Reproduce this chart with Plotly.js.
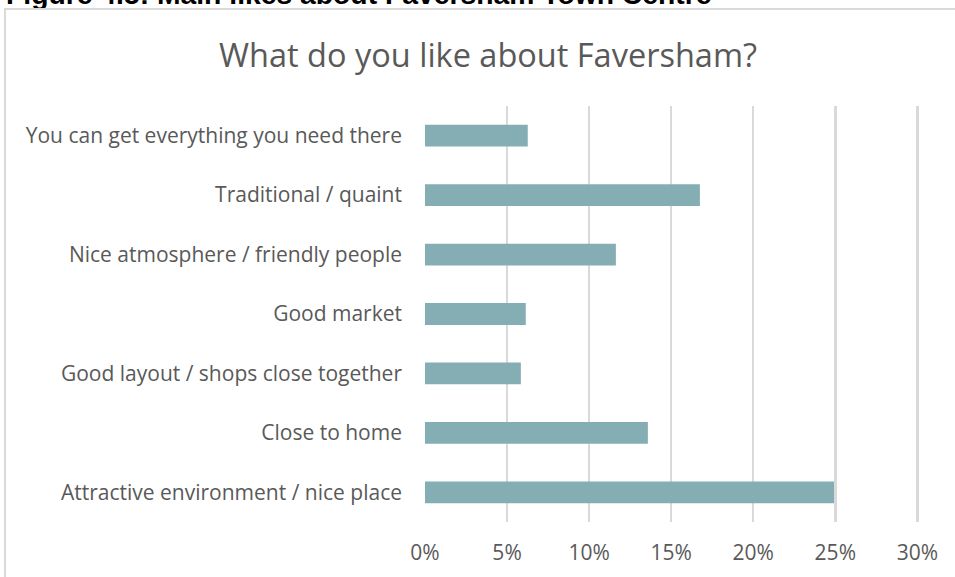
<!DOCTYPE html>
<html>
<head>
<meta charset="utf-8">
<script src="https://cdn.plot.ly/plotly-3.0.1.min.js"></script>
<style>
  html, body { margin: 0; padding: 0; background: #ffffff; overflow: hidden; }
  #chart { width: 955px; height: 577px; position: absolute; left: 0; top: 0; }
  #frame { position: absolute; left: 4px; top: 8px; width: 1200px; height: 1200px;
           border: 2px solid #d9d9d9; pointer-events: none; }
</style>
</head>
<body>
<div id="chart"></div>
<div id="frame"></div>
<script>
// Data (top-to-bottom order as in the reference)
const categories = [
  "You can get everything you need there",
  "Traditional / quaint",
  "Nice atmosphere / friendly people",
  "Good market",
  "Good layout / shops close together",
  "Close to home",
  "Attractive environment / nice place"
];
const shares = [0.0626, 0.1675, 0.1163, 0.0614, 0.0584, 0.1358, 0.2492];
const tickValues = [0, 0.05, 0.10, 0.15, 0.20, 0.25, 0.30];
const tickLabels = ["0%", "5%", "10%", "15%", "20%", "25%", "30%"];
const chartTitle = "What do you like about Faversham?";
const headerText = "Figure 4.5: Main likes about Faversham Town Centre";

const textColor = "#595959";
const fontFamily = "'Open Sans', 'Noto Sans', sans-serif";

const trace = {
  type: "bar",
  orientation: "h",
  x: shares,
  y: categories,
  marker: { color: "#84aeb3", line: { width: 0 } },
  hoverinfo: "x+y"
};

const plotLeft = 425, plotTop = 106, plotBottomMargin = 55;
const plotH = 577 - plotTop - plotBottomMargin;
const plotW = 493.6;

const layout = {
  width: 955,
  height: 577,
  margin: { l: plotLeft, r: 955 - plotLeft - plotW, t: plotTop, b: plotBottomMargin, pad: 0 },
  paper_bgcolor: "rgba(0,0,0,0)",
  plot_bgcolor: "rgba(0,0,0,0)",
  bargap: 0.634,
  showlegend: false,
  font: { family: fontFamily, color: textColor, size: 21 },
  title: {
    text: chartTitle,
    font: { family: fontFamily, size: 32.5, color: textColor },
    x: (488 - plotLeft) / plotW, xref: "paper", xanchor: "center",
    y: 0.903, yref: "container", yanchor: "middle"
  },
  xaxis: {
    range: [0, 0.301],
    tickvals: tickValues,
    ticktext: tickLabels,
    showgrid: true,
    gridcolor: "#d9d9d9",
    gridwidth: 2.5,
    zeroline: false,
    showline: false,
    ticks: "",
    ticklabelstandoff: 16,
    tickfont: { family: fontFamily, size: 21, color: textColor },
    fixedrange: true
  },
  yaxis: {
    autorange: "reversed",
    showgrid: false,
    zeroline: false,
    showline: false,
    ticks: "",
    ticklabelstandoff: 22,
    tickfont: { family: fontFamily, size: 21, color: textColor },
    fixedrange: true
  },
  annotations: [{
    text: "<b>" + headerText + "</b>",
    xref: "paper", yref: "paper",
    x: (4 - plotLeft) / plotW, xanchor: "left",
    y: (577 - plotBottomMargin + 5.5) / plotH, yanchor: "middle",
    showarrow: false,
    font: { family: "'Liberation Sans', Arial, sans-serif", size: 28.3, color: "#000000" }
  }]
};

Plotly.newPlot("chart", [trace], layout, { displayModeBar: false, staticPlot: true });
</script>
</body>
</html>
